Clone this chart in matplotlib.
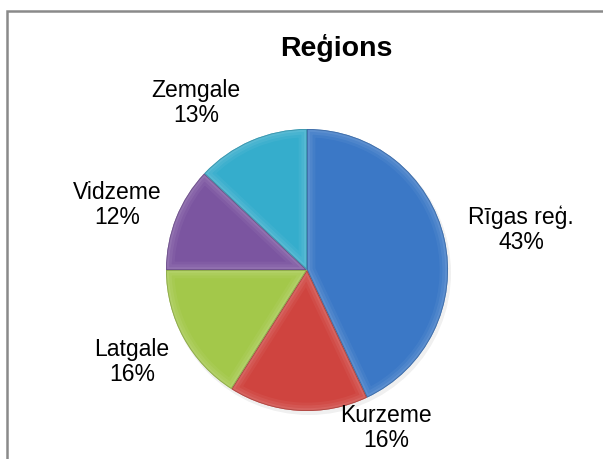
import matplotlib
matplotlib.use("Agg")
import matplotlib.pyplot as plt
from matplotlib.patches import Wedge, Circle
import matplotlib.colors as mcolors

plt.rcParams['font.family'] = ['Liberation Sans', 'DejaVu Sans']

# Data
categories = ["Rīgas reģ.", "Kurzeme", "Latgale", "Vidzeme", "Zemgale"]
values = [43, 16, 16, 12, 13]
colors = ["#3B78C6", "#CF443F", "#A3C84A", "#7B55A0", "#35ADCC"]
title = "Reģions"

W, H = 603, 459
fig = plt.figure(figsize=(W / 100, H / 100), dpi=100)
ax = fig.add_axes([0, 0, 1, 1])

cx, cy, r = 307, H - 270, 141

# faint shadow
ax.add_patch(Circle((cx + 2, cy - 3), r + 1, facecolor='#000000', alpha=0.06,
                    edgecolor='none', zorder=1))

wedges, _ = ax.pie(values, colors=colors, startangle=90, counterclock=False,
                   center=(cx, cy), radius=r, frame=True,
                   wedgeprops=dict(edgecolor='none', linewidth=0))
for w in wedges:
    w.set_zorder(2)

# soft bevel-like highlights clipped to each wedge
for w, c in zip(wedges, colors):
    rgb = mcolors.to_rgb(c)
    light = tuple(min(1, v + (1 - v) * 0.45) for v in rgb)
    dark = tuple(v * 0.7 for v in rgb)
    for lw, a in [(12, 0.10), (8, 0.14), (4, 0.2)]:
        hi = Wedge(w.center, w.r, w.theta1, w.theta2, facecolor='none',
                   edgecolor=light, linewidth=lw, alpha=a, zorder=3)
        ax.add_patch(hi)
        hi.set_clip_path(w)
    edge = Wedge(w.center, w.r, w.theta1, w.theta2, facecolor='none',
                 edgecolor=dark, linewidth=1.2, alpha=0.6, zorder=4)
    ax.add_patch(edge)
    edge.set_clip_path(w)

ax.set_xlim(0, W)
ax.set_ylim(0, H)
ax.set_aspect('equal')
ax.axis('off')

# labels
label_pos = [(521, 230), (386, 428), (132, 362), (117, 205), (196, 103)]
for name, v, (x, y) in zip(categories, values, label_pos):
    ax.text(x, H - y, f"{name}\n{v}%", ha='center', va='center',
            fontsize=16.5, linespacing=1.1, color='black', zorder=5)

ax.text(336, H - 48, title, ha='center', va='center', fontsize=20.5,
        fontweight='bold', color='black', zorder=5)

# chart frame (left and top edges visible)
ax.plot([6.5, 6.5, W + 5], [-5, H - 11, H - 11], color='#8A8A8A',
        linewidth=1.8, solid_joinstyle='miter', zorder=6, clip_on=False)

fig.savefig("out.png", dpi=100)
